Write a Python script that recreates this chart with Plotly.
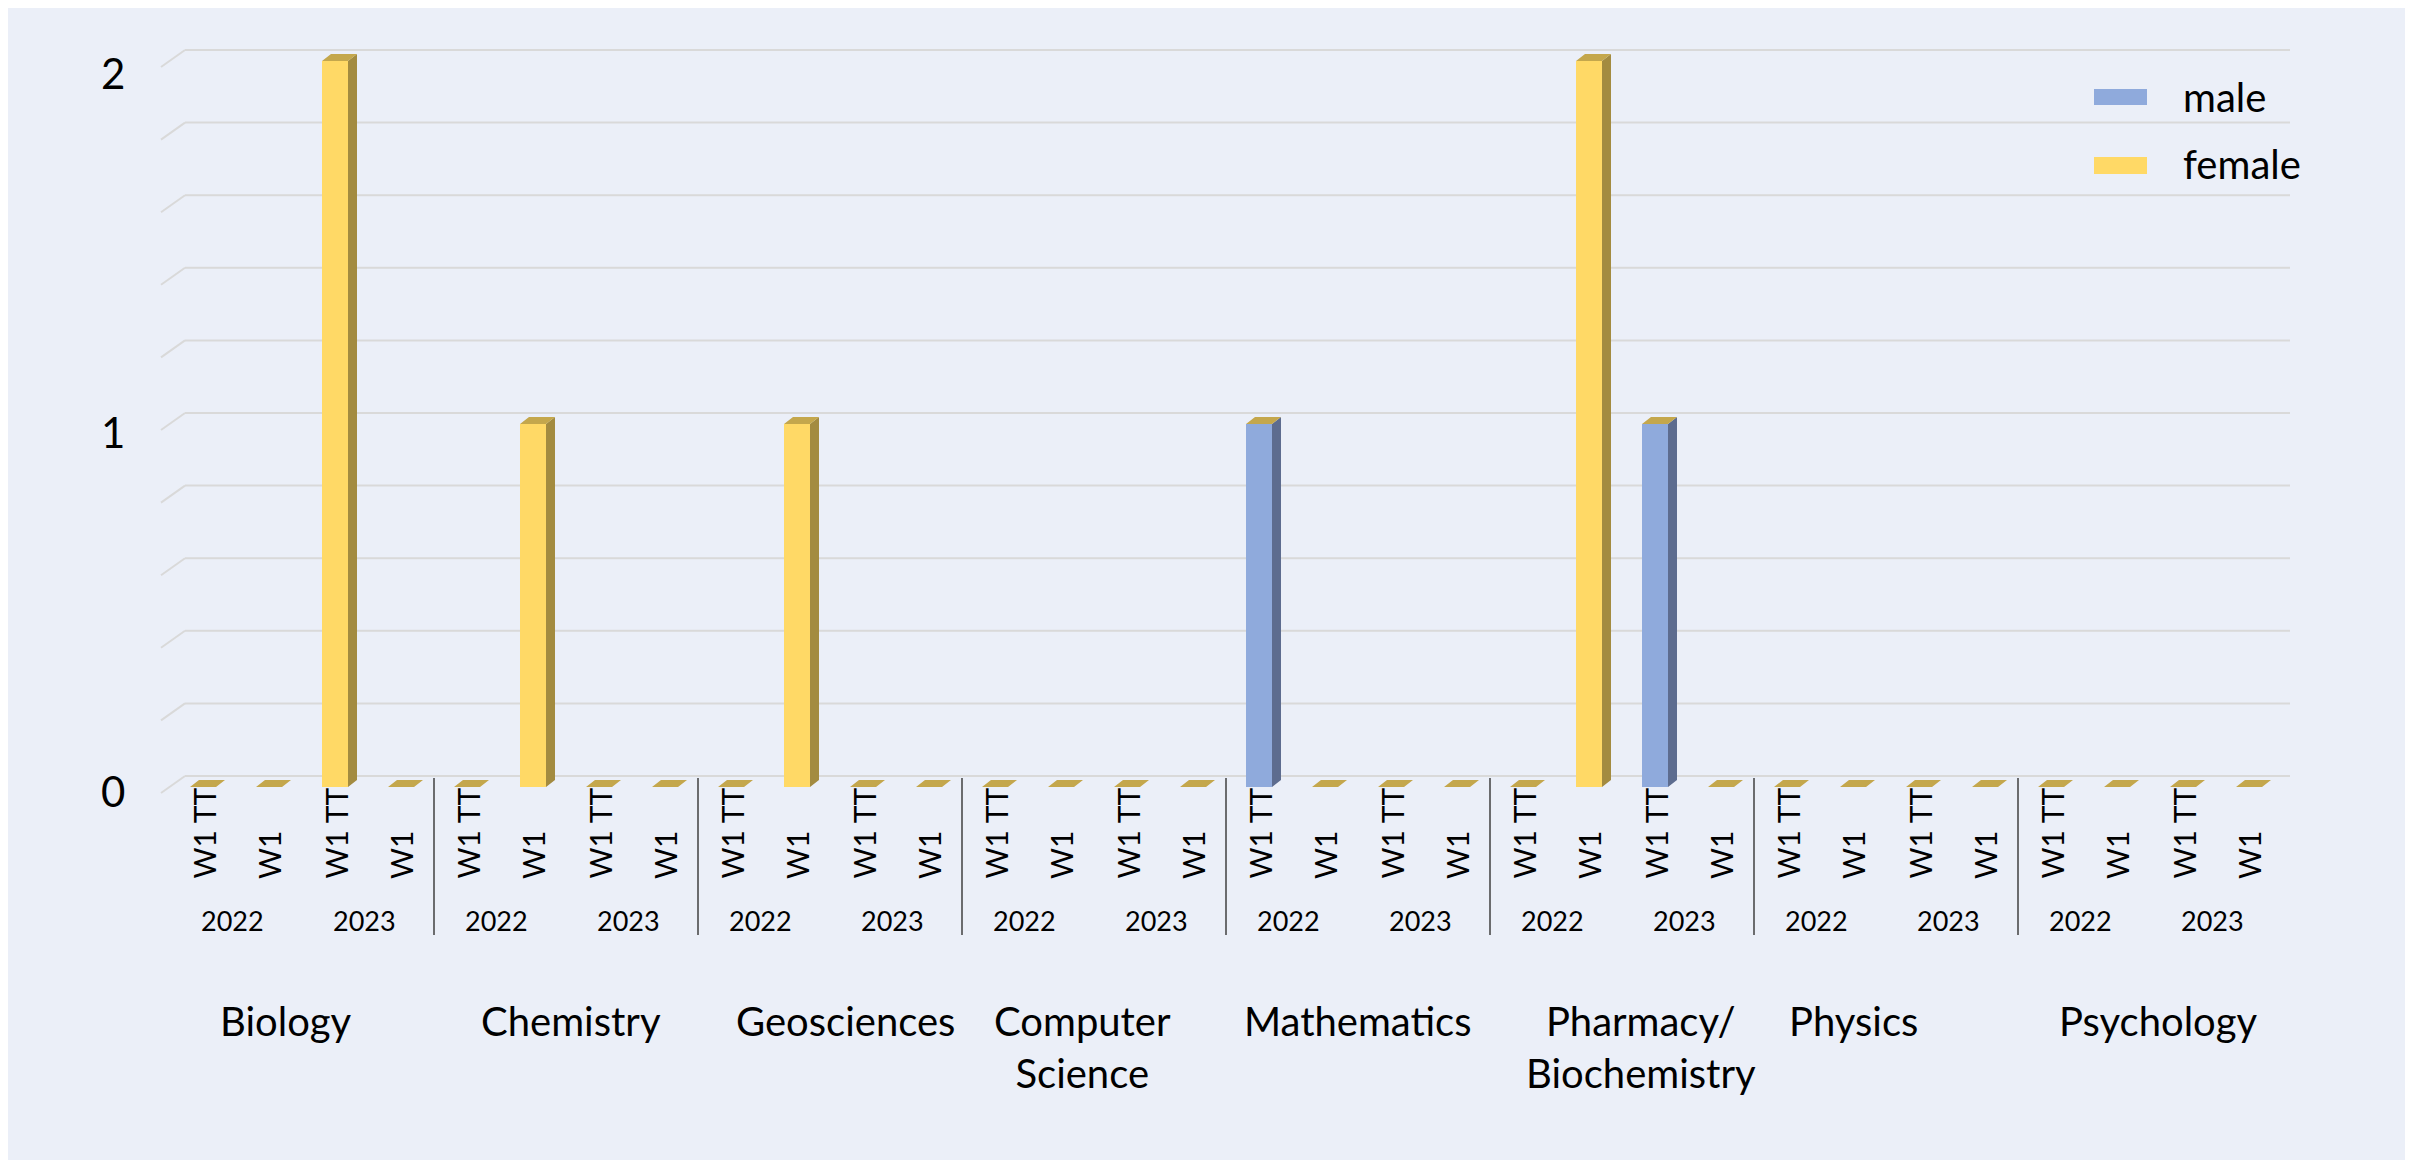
"""Applicants per subject, term and year, split by gender — Excel-style 3D stacked columns."""

import plotly.graph_objects as go

# ---- data -------------------------------------------------------------------

SUBJECTS = ["Biology", "Chemistry", "Geosciences", "Computer<br>Science", "Mathematics",
            "Pharmacy/<br>Biochemistry", "Physics", "Psychology"]
YEARS = ["2022", "2023"]
TERMS = ["W1 TT", "W1"]

# one value per (subject, year, term), in that nesting order
MALE = [0, 0, 0, 0,  0, 0, 0, 0,  0, 0, 0, 0,  0, 0, 0, 0,
        1, 0, 0, 0,  0, 0, 1, 0,  0, 0, 0, 0,  0, 0, 0, 0]
FEMALE = [0, 0, 2, 0,  0, 1, 0, 0,  0, 1, 0, 0,  0, 0, 0, 0,
          0, 0, 0, 0,  0, 2, 0, 0,  0, 0, 0, 0,  0, 0, 0, 0]

Y_TICKS = [0, 1, 2]
GRID_VALUES = [k / 5 for k in range(11)]

# ---- look -------------------------------------------------------------------
# All pixel numbers below are page pixels; the browser's 8px body margin
# is the white frame around the chart, so the figure starts at (8, 8).

PAGE_OFF = 8
FW, FH = 2397, 1152
X0_PX, X_STEP = 203, 66        # page pixel of category 0, pixels per category
Y0_PX, Y_UNIT = 787, 363       # page pixel of value 0 (front), pixels per unit

BAR_W = 26 / X_STEP
DEPTH_X = 9 / X_STEP
DEPTH_Y = 7 / Y_UNIT

MALE_FRONT, MALE_SIDE = "#8FAADC", "#5D6C8F"
FEMALE_FRONT, FEMALE_SIDE, FEMALE_TOP = "#FFD966", "#A38B40", "#C4A74C"
BG = "#EBEFF8"
GRID = "#D9D9D9"
FONT = "Lato, Carlito, Calibri, sans-serif"

# Excel does not centre the subject labels exactly; nudges in pixels
SUBJECT_NUDGE = [-16, 5, 15, -12, 0, 19, -33, 8]


def xd(p):
    return (p - X0_PX) / X_STEP


def yd(p):
    return (Y0_PX - p) / Y_UNIT


def px(p):
    return (p - PAGE_OFF) / FW


def py(p):
    return 1 - (p - PAGE_OFF) / FH


n = len(MALE)
xs = list(range(n))
tops = [m + f for m, f in zip(MALE, FEMALE)]

fig = go.Figure()

# front faces
fig.add_trace(go.Bar(x=xs, y=MALE, width=BAR_W, marker=dict(color=MALE_FRONT, line_width=0),
                     name="male", showlegend=False))
fig.add_trace(go.Bar(x=xs, y=FEMALE, width=BAR_W, marker=dict(color=FEMALE_FRONT, line_width=0),
                     name="female", showlegend=False))


def side_faces(lo, hi):
    px_, py_ = [], []
    for i, (a, b) in enumerate(zip(lo, hi)):
        if b <= a:
            continue
        r = i + BAR_W / 2
        px_ += [r, r + DEPTH_X, r + DEPTH_X, r, r, None]
        py_ += [a, a + DEPTH_Y, b + DEPTH_Y, b, a, None]
    return px_, py_


sx, sy = side_faces([0] * n, MALE)
fig.add_trace(go.Scatter(x=sx, y=sy, mode="lines", fill="toself", fillcolor=MALE_SIDE,
                         line=dict(width=0, color=MALE_SIDE), hoverinfo="skip", showlegend=False))
sx, sy = side_faces(MALE, tops)
fig.add_trace(go.Scatter(x=sx, y=sy, mode="lines", fill="toself", fillcolor=FEMALE_SIDE,
                         line=dict(width=0, color=FEMALE_SIDE), hoverinfo="skip", showlegend=False))

# top faces (female segment always sits on top, even at zero height)
tx, ty = [], []
for i, t in enumerate(tops):
    l, r = i - BAR_W / 2, i + BAR_W / 2
    tx += [l, r, r + DEPTH_X, l + DEPTH_X, l, None]
    ty += [t, t, t + DEPTH_Y, t + DEPTH_Y, t, None]
fig.add_trace(go.Scatter(x=tx, y=ty, mode="lines", fill="toself", fillcolor=FEMALE_TOP,
                         line=dict(width=0, color=FEMALE_TOP), hoverinfo="skip", showlegend=False))

# ---- walls / gridlines ------------------------------------------------------

shapes = []
for v in GRID_VALUES:
    vb = v + 11 / Y_UNIT
    vf = v - 6 / Y_UNIT
    shapes.append(dict(type="line", x0=xd(161), y0=vf, x1=xd(185), y1=vb,
                       line=dict(color=GRID, width=2), layer="below"))
    shapes.append(dict(type="line", x0=xd(185), y0=vb, x1=xd(2290), y1=vb,
                       line=dict(color=GRID, width=2), layer="below"))

# separators between subjects
per_subject = len(YEARS) * len(TERMS)
for s in range(1, len(SUBJECTS)):
    xsep = s * per_subject - 0.5
    shapes.append(dict(type="line", x0=xsep, x1=xsep, y0=yd(778), y1=yd(935),
                       line=dict(color="#404040", width=1.5)))

# legend swatches
shapes.append(dict(type="rect", xref="paper", yref="paper", x0=px(2094), x1=px(2147),
                   y0=py(105), y1=py(89), fillcolor=MALE_FRONT, line_width=0))
shapes.append(dict(type="rect", xref="paper", yref="paper", x0=px(2094), x1=px(2147),
                   y0=py(174), y1=py(157), fillcolor=FEMALE_FRONT, line_width=0))

# ---- labels -----------------------------------------------------------------

ann = []
for v in Y_TICKS:
    ann.append(dict(x=xd(127), y=yd(791 - 359 * v), text=str(v), showarrow=False,
                    xanchor="right", yanchor="middle", font=dict(size=42, color="black")))

for i in xs:
    ann.append(dict(x=i, y=yd(881), text=TERMS[i % len(TERMS)], textangle=-90, showarrow=False,
                    xanchor="center", yanchor="bottom", font=dict(size=30, color="black")))

for s in range(len(SUBJECTS)):
    for k, yr in enumerate(YEARS):
        c = s * per_subject + k * len(TERMS) + (len(TERMS) - 1) / 2
        ann.append(dict(x=c - 0.05, y=yd(920), text=yr, showarrow=False, xanchor="center",
                        yanchor="middle", font=dict(size=27, color="black")))
    c = s * per_subject + (per_subject - 1) / 2 + SUBJECT_NUDGE[s] / X_STEP
    ann.append(dict(x=c, y=yd(995), text=SUBJECTS[s], showarrow=False, xanchor="center",
                    yanchor="top", font=dict(size=40, color="black")))

ann.append(dict(xref="paper", yref="paper", x=px(2181), y=py(97), text="male", showarrow=False,
                xanchor="left", yanchor="middle", font=dict(size=40, color="black")))
ann.append(dict(xref="paper", yref="paper", x=px(2181), y=py(164), text="female", showarrow=False,
                xanchor="left", yanchor="middle", font=dict(size=40, color="black")))

fig.update_layout(
    width=FW, height=FH,
    margin=dict(l=0, r=0, t=0, b=0, autoexpand=False),
    paper_bgcolor=BG,
    plot_bgcolor="rgba(0,0,0,0)",
    barmode="stack",
    bargap=0,
    showlegend=False,
    font=dict(family=FONT, color="black"),
    xaxis=dict(range=[xd(PAGE_OFF), xd(PAGE_OFF + FW)], visible=False, fixedrange=True),
    yaxis=dict(range=[yd(PAGE_OFF + FH), yd(PAGE_OFF)], visible=False, fixedrange=True),
    shapes=shapes,
    annotations=ann,
)

fig.write_html("out.html")
